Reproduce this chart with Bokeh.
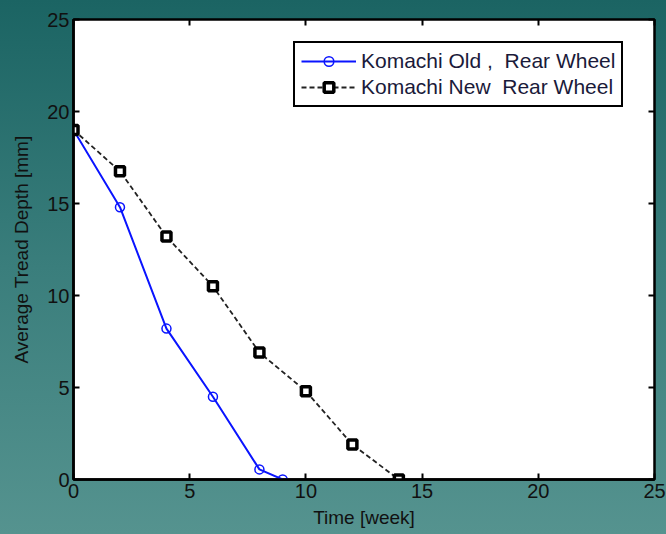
from bokeh.plotting import figure
from bokeh.models import LinearAxis, Range1d, FixedTicker, Legend, LegendItem
from bokeh.embed import file_html
from bokeh.resources import INLINE

# Data
weeks_old = [0, 2, 4, 6, 8, 9]
depth_old = [19.0, 14.8, 8.2, 4.5, 0.55, 0.0]
weeks_new = [0, 2, 4, 6, 8, 10, 12, 14]
depth_new = [19.0, 16.75, 13.2, 10.5, 6.9, 4.8, 1.9, 0.0]
label_old = "Komachi Old ,  Rear Wheel"
label_new = "Komachi New  Rear Wheel"
ticks = [0, 5, 10, 15, 20, 25]

FONT = "Liberation Sans"
TXT = "#111111"

p = figure(width=666, height=534, output_backend="svg", toolbar_location=None,
           x_range=Range1d(0, 25), y_range=Range1d(0, 25),
           min_border_left=73, min_border_right=12, min_border_top=19, min_border_bottom=55)
p.styles = {"background": "linear-gradient(180deg, #1b6463 0%, #3a7e7c 50%, #55938f 100%)"}
p.border_fill_color = None
p.background_fill_color = "white"
p.outline_line_color = "black"
p.outline_line_width = 2.5
p.grid.visible = False

for ax in (p.xaxis[0], p.yaxis[0]):
    ax.ticker = FixedTicker(ticks=ticks)
    ax.major_tick_in = 6
    ax.major_tick_out = 0
    ax.minor_tick_line_color = None
    ax.axis_line_width = 2.5
    ax.major_tick_line_width = 2
    ax.major_label_text_font = FONT
    ax.major_label_text_font_size = "20px"
    ax.major_label_text_color = TXT
    ax.axis_label_text_font = FONT
    ax.axis_label_text_font_size = "19px"
    ax.axis_label_text_font_style = "normal"
    ax.axis_label_text_color = TXT
    ax.major_label_standoff = 4

p.xaxis.axis_label = "Time [week]"
p.yaxis.axis_label = "Average Tread Depth [mm]"
p.xaxis.axis_label_standoff = 6
p.yaxis.axis_label_standoff = 12

for loc in ("above", "right"):
    a = LinearAxis(ticker=FixedTicker(ticks=ticks), major_tick_in=6, major_tick_out=0,
                   minor_tick_line_color=None, major_label_text_color=None,
                   major_label_standoff=0, axis_line_color=None, major_tick_line_width=2)
    p.add_layout(a, loc)

l1 = p.line(weeks_old, depth_old, line_color="#0a14ff", line_width=2)
s1 = p.scatter(weeks_old, depth_old, marker="circle", size=9, line_color="#0a14ff",
               fill_color=None, line_width=1.5)
l2 = p.line(weeks_new, depth_new, line_color="#222222", line_width=1.8, line_dash="5 3")
s2 = p.scatter(weeks_new, depth_new, marker="square", size=9, line_color="black",
               fill_color="white", line_width=3.5)

legend = Legend(items=[LegendItem(label=label_old, renderers=[l1, s1]),
                       LegendItem(label=label_new, renderers=[l2, s2])],
                location=(220, 372))
legend.border_line_color = "black"
legend.border_line_alpha = 1.0
legend.border_line_width = 2.5
legend.background_fill_color = "white"
legend.background_fill_alpha = 1.0
legend.label_text_font = FONT
legend.label_text_font_size = "21px"
legend.label_text_color = "#1a1a3a"
legend.glyph_width = 55
legend.glyph_height = 24
legend.label_standoff = 5
legend.spacing = 2
legend.padding = 6
legend.margin = 0
legend.label_height = 24
p.add_layout(legend)

open("out.html", "w").write(file_html(p, INLINE))
